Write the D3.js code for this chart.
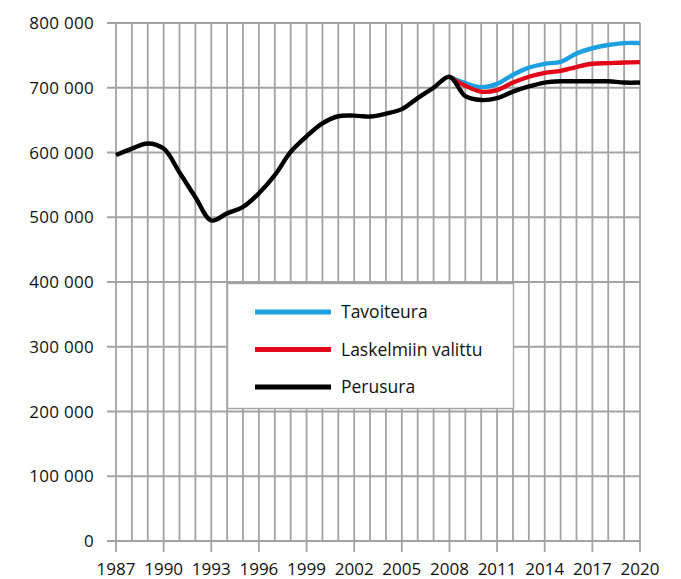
<!DOCTYPE html>
<html>
<head>
<meta charset="utf-8">
<script src="https://cdn.jsdelivr.net/npm/d3@7"></script>
<style>
  body { margin: 0; background: #fff; }
  svg text { font-family: "Open Sans", sans-serif; fill: #111; font-weight: 500; }
</style>
</head>
<body>
<div id="chart"></div>
<script>
// years and series
var years = d3.range(1987, 2021);
var perusura = [596000, 606000, 614000, 606000, 569000, 531000, 495000, 506000, 516000, 537000,
    565000, 601000, 625000, 645000, 656000, 657000, 655500, 660000, 667000, 684000,
    700000, 717000, 687000, 681000, 684000, 694000, 702000, 708000, 710000, 710000,
    710000, 710000, 708000, 708000];
var laskelmiinYears = d3.range(2008, 2021);
var laskelmiin = [717000, 703000, 694000, 696500, 708000, 717000, 723000, 726000, 732000, 737000,
    738000, 739000, 739500];
var tavoiteura = [717000, 707000, 701000, 706000, 720000, 731000, 737000, 740000, 753000, 761000,
    766000, 769000, 769000];
var yTicks = d3.range(0, 800001, 100000);
var xTickYears = d3.range(1987, 2021, 3);
var legendNames = ["Tavoiteura", "Laskelmiin valittu", "Perusura"];
var legendColors = ["#1ba1e1", "#e30618", "#000000"];

var width = 681, height = 579;
var plotLeft = 116, plotRight = 640, plotTop = 23, plotBottom = 541;

var svg = d3.select("#chart").append("svg")
    .attr("width", width)
    .attr("height", height);

var x = d3.scaleLinear().domain([1987, 2020]).range([plotLeft, plotRight]);
var y = d3.scaleLinear().domain([0, 800000]).range([plotBottom, plotTop]);

var gridColor = "#a3a3a3";

// vertical grid lines, one per year
svg.append("g").selectAll("line")
    .data(years)
    .enter()
    .append("line")
    .attr("x1", d => x(d)).attr("x2", d => x(d))
    .attr("y1", plotTop)
    .attr("y2", d => (d - 1987) % 3 === 0 ? plotBottom + 11 : plotBottom)
    .attr("stroke", gridColor)
    .attr("stroke-width", 1.8);

// horizontal grid lines
svg.append("g").selectAll("line")
    .data(yTicks)
    .enter()
    .append("line")
    .attr("x1", plotLeft - 9).attr("x2", plotRight)
    .attr("y1", d => y(d)).attr("y2", d => y(d))
    .attr("stroke", gridColor)
    .attr("stroke-width", 1.8);

// y labels
var fmt = function(v) { return v === 0 ? "0" : d3.format(",")(v).replace(/,/g, " "); };
svg.append("g").selectAll("text")
    .data(yTicks)
    .enter()
    .append("text")
    .attr("x", 94)
    .attr("y", d => y(d))
    .attr("dy", "0.36em")
    .attr("text-anchor", "end")
    .style("font-size", "17px")
    .style("letter-spacing", "0.3px")
    .text(fmt);

// x labels
svg.append("g").selectAll("text")
    .data(xTickYears)
    .enter()
    .append("text")
    .attr("x", d => x(d))
    .attr("y", 575)
    .attr("text-anchor", "middle")
    .style("font-size", "17px")
    .text(d => d);

var line = d3.line()
    .x(d => x(d[0]))
    .y(d => y(d[1]))
    .curve(d3.curveCatmullRom.alpha(0.5));

var series = [
    { color: legendColors[0], pts: d3.zip(laskelmiinYears, tavoiteura) },
    { color: legendColors[1], pts: d3.zip(laskelmiinYears, laskelmiin) },
    { color: legendColors[2], pts: d3.zip(years, perusura) }
];

svg.append("g").selectAll("path")
    .data(series)
    .enter()
    .append("path")
    .attr("d", d => line(d.pts))
    .attr("fill", "none")
    .attr("stroke", d => d.color)
    .attr("stroke-width", 4.4)
    .attr("stroke-linejoin", "round");

// legend
var legend = svg.append("g");
legend.append("rect")
    .attr("x", 227.5).attr("y", 283.5)
    .attr("width", 286).attr("height", 125)
    .attr("fill", "#fff")
    .attr("stroke", gridColor)
    .attr("stroke-width", 1.4);

var items = legend.selectAll("g.item")
    .data(legendNames)
    .enter()
    .append("g")
    .attr("transform", (d, i) => "translate(0," + (312 + i * 37.5) + ")");
items.append("line")
    .attr("x1", 255).attr("x2", 331)
    .attr("stroke", (d, i) => legendColors[i])
    .attr("stroke-width", 5);
items.append("text")
    .attr("x", 341)
    .attr("dy", "0.36em")
    .style("font-size", "17.5px")
    .text(d => d);
</script>
</body>
</html>
